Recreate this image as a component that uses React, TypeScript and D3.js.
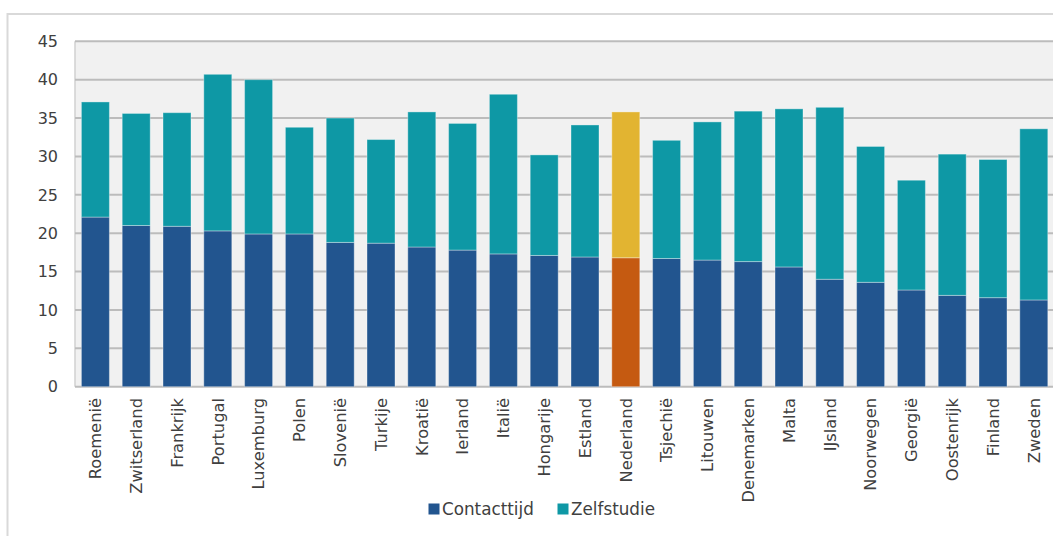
import React from "react";
import * as d3 from "d3";

const categories = [
  "Roemenië", "Zwitserland", "Frankrijk", "Portugal", "Luxemburg", "Polen",
  "Slovenië", "Turkije", "Kroatië", "Ierland", "Italië", "Hongarije",
  "Estland", "Nederland", "Tsjechië", "Litouwen", "Denemarken", "Malta",
  "IJsland", "Noorwegen", "Georgië", "Oostenrijk", "Finland", "Zweden",
];

const contacttijd = [
  22.1, 21.0, 20.9, 20.3, 19.9, 19.9, 18.8, 18.7, 18.2, 17.8, 17.3, 17.1,
  16.9, 16.8, 16.7, 16.5, 16.3, 15.6, 14.0, 13.6, 12.6, 11.9, 11.6, 11.3,
];

const zelfstudie = [
  15.0, 14.6, 14.8, 20.4, 20.1, 13.9, 16.2, 13.5, 17.6, 16.5, 20.8, 13.1,
  17.2, 19.0, 15.4, 18.0, 19.6, 20.6, 22.4, 17.7, 14.3, 18.4, 18.0, 22.3,
];

const yTicks = [0, 5, 10, 15, 20, 25, 30, 35, 40, 45];
const seriesKeys = ["Contacttijd", "Zelfstudie"];
const highlight = "Nederland";

const COLORS: Record<string, string> = {
  Contacttijd: "#22558f",
  Zelfstudie: "#0e98a5",
};
const HIGHLIGHT_COLORS: Record<string, string> = {
  Contacttijd: "#c55a11",
  Zelfstudie: "#e2b431",
};

const W = 1053;
const H = 536;
const FONT = "'DejaVu Sans', sans-serif";
const TEXT = "#404040";

export default function App() {
  const rows = categories.map((c, i) => ({
    category: c,
    Contacttijd: contacttijd[i],
    Zelfstudie: zelfstudie[i],
  }));
  const stacked = d3.stack<any>().keys(seriesKeys)(rows);

  const plotLeft = 75;
  const plotRight = 1054.2;
  const plotTop = 41.3;
  const plotBottom = 386.7;

  const x = d3
    .scaleBand<string>()
    .domain(categories)
    .range([plotLeft, plotRight])
    .paddingInner(0.314)
    .paddingOuter(0.157);
  const y = d3.scaleLinear().domain([0, 45]).range([plotBottom, plotTop]);

  const legendItems = [
    { key: "Contacttijd", x: 428.5 },
    { key: "Zelfstudie", x: 557.5 },
  ];

  return (
    <div style={{ position: "absolute", left: 0, top: 0 }}>
      <svg width={W} height={H} style={{ display: "block", fontFamily: FONT }}>
        <rect x={0} y={0} width={W} height={H} fill="#ffffff" />
        {/* outer chart border */}
        <rect x={7.5} y={14} width={W + 20} height={H + 20} fill="none" stroke="#d9d9d9" strokeWidth={2} />
        {/* plot background */}
        <rect
          x={plotLeft}
          y={plotTop}
          width={plotRight - plotLeft}
          height={plotBottom - plotTop}
          fill="#f1f1f1"
        />
        <line x1={plotLeft} x2={plotLeft} y1={plotTop} y2={plotBottom} stroke="#d0d0d0" strokeWidth={1.5} />
        {/* gridlines */}
        {yTicks.map((t) => (
          <line
            key={t}
            x1={plotLeft}
            x2={plotRight}
            y1={y(t)}
            y2={y(t)}
            stroke="#bcbcbc"
            strokeWidth={2}
          />
        ))}
        {/* y tick labels */}
        {yTicks.map((t) => (
          <text
            key={"l" + t}
            x={58}
            y={y(t)}
            dy="0.36em"
            textAnchor="end"
            fontSize={16}
            fill={TEXT}
          >
            {t}
          </text>
        ))}
        {/* bars */}
        {stacked.map((s) => (
          <g key={s.key}>
            {s.map((d: any, i: number) => {
              const cat = categories[i];
              const col = cat === highlight ? HIGHLIGHT_COLORS[s.key] : COLORS[s.key];
              return (
                <rect
                  key={cat}
                  x={x(cat)!}
                  y={y(d[1])}
                  width={x.bandwidth()}
                  height={y(d[0]) - y(d[1])}
                  fill={col}
                  stroke="rgba(255,255,255,0.35)"
                  strokeWidth={1}
                />
              );
            })}
          </g>
        ))}
        {/* x labels */}
        {categories.map((c) => {
          const cx = x(c)! + x.bandwidth() / 2;
          const ty = 398;
          return (
            <text
              key={"x" + c}
              transform={`translate(${cx},${ty}) rotate(-90)`}
              dy="0.36em"
              textAnchor="end"
              fontSize={16.3}
              fill={TEXT}
            >
              {c}
            </text>
          );
        })}
        {/* legend */}
        {legendItems.map((l) => (
          <g key={l.key}>
            <rect x={l.x} y={503.5} width={11} height={11} fill={COLORS[l.key]} />
            <text x={l.x + 13.5} y={515} fontSize={16.8} fill={TEXT}>
              {l.key}
            </text>
          </g>
        ))}
      </svg>
    </div>
  );
}
